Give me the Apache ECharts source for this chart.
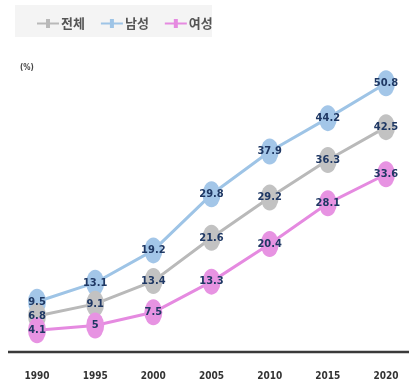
<!DOCTYPE html>
<html>
<head>
<meta charset="utf-8">
<script src="https://cdn.jsdelivr.net/npm/echarts@6/dist/echarts.min.js"></script>
<style>
  html, body { margin: 0; padding: 0; background: #fff; }
  #chart { width: 409px; height: 383px; }
</style>
</head>
<body>
<div id="chart"></div>
<script>
// Years on the horizontal axis
const years = ['1990', '1995', '2000', '2005', '2010', '2015', '2020'];
// Rates (%) by group
const totalValues = [6.8, 9.1, 13.4, 21.6, 29.2, 36.3, 42.5];
const maleValues = [9.5, 13.1, 19.2, 29.8, 37.9, 44.2, 50.8];
const femaleValues = [4.1, 5, 7.5, 13.3, 20.4, 28.1, 33.6];
// Series names
const seriesNames = ['전체', '남성', '여성'];

const colors = {
  total: { line: '#b9b9b9', dot: '#c2c2c2' },
  male: { line: '#9ec4e6', dot: '#a3c6e8' },
  female: { line: '#e58ae0', dot: '#e793e2' }
};

const labelFont = '"DejaVu Sans Condensed", "Liberation Sans Narrow", sans-serif';

function makeSeries(name, values, c) {
  return {
    name: name,
    type: 'line',
    data: values,
    z: 2,
    symbol: 'circle',
    symbolSize: [18, 26],
    lineStyle: { color: c.line, width: 3 },
    itemStyle: { color: c.dot },
    label: {
      show: true,
      position: 'inside',
      color: '#1f3864',
      fontFamily: labelFont,
      fontWeight: 'bold',
      fontSize: 11
    },
    labelLayout: { hideOverlap: false },
    animation: false
  };
}

const legendIcon = 'path://M0,3.5h9v-3.5h4v3.5h9v2h-9v3.5h-4v-3.5h-9z';

const chart = echarts.init(document.getElementById('chart'), null, { renderer: 'canvas' });
chart.setOption({
  animation: false,
  legend: {
    data: seriesNames.map((n, i) => ({
      name: n,
      icon: legendIcon,
      itemStyle: { color: [colors.total.line, colors.male.line, colors.female.line][i] }
    })),
    left: 32,
    top: 12,
    itemWidth: 22,
    itemHeight: 9,
    itemGap: 16,
    textStyle: { color: '#555', fontWeight: 'bold', fontSize: 13, fontFamily: 'Noto Sans CJK KR', padding: [0, 0, 0, -3] }
  },
  grid: { left: 37, right: 23, top: 61, bottom: 31 },
  xAxis: {
    type: 'category',
    data: years,
    boundaryGap: false,
    axisLine: { show: false },
    axisTick: { show: false },
    axisLabel: {
      color: '#333',
      fontFamily: labelFont,
      fontWeight: 'bold',
      fontSize: 10,
      margin: 19
    }
  },
  yAxis: {
    type: 'value',
    min: 0,
    max: 55,
    show: false,
    splitLine: { show: false }
  },
  series: [
    makeSeries(seriesNames[1], maleValues, colors.male),
    makeSeries(seriesNames[0], totalValues, colors.total),
    makeSeries(seriesNames[2], femaleValues, colors.female)
  ]
});

// Legend panel, unit note and a baseline spanning the full width at the zero level
const zeroY = chart.convertToPixel({ yAxisIndex: 0 }, 0);
chart.setOption({
  graphic: [
    {
      type: 'rect',
      shape: { x: 15, y: 5, width: 197, height: 32 },
      style: { fill: '#f4f4f4' },
      z: -1
    },
    {
      type: 'text',
      left: 20,
      top: 64,
      style: { text: '(%)', fill: '#444', font: 'bold 8px ' + labelFont }
    },
    {
      type: 'line',
      shape: { x1: 8, y1: zeroY, x2: 409, y2: zeroY },
      style: { stroke: '#3a3a3a', lineWidth: 2.5 },
      z: 0
    }
  ]
});
</script>
</body>
</html>
